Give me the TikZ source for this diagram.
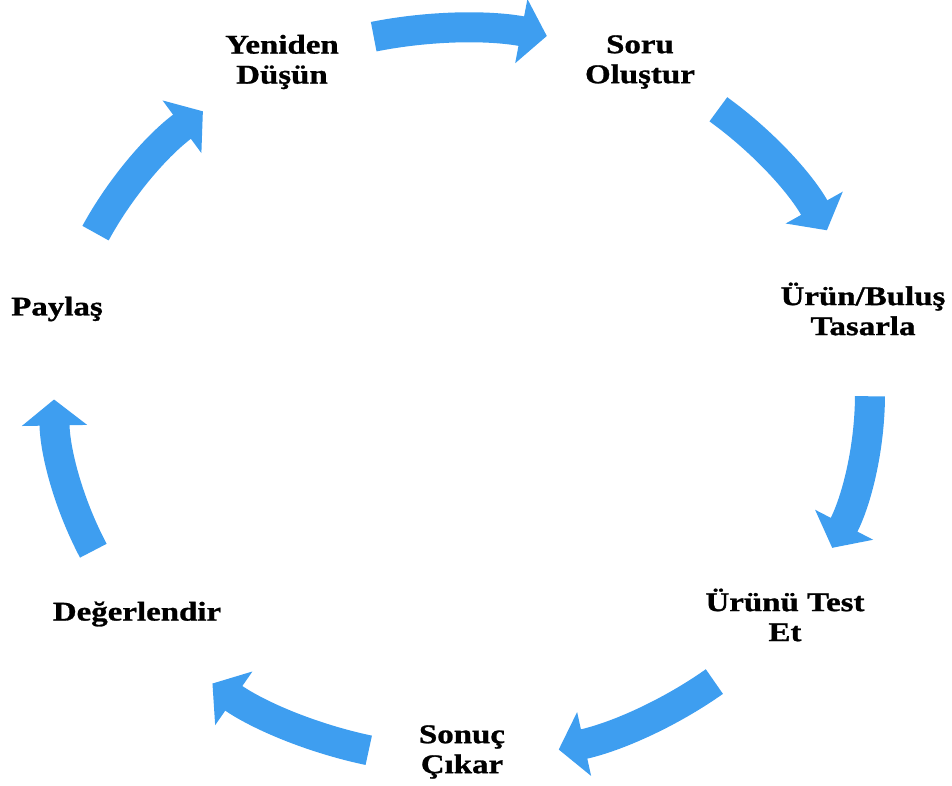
\documentclass[tikz,border=0pt]{standalone}
\usepackage{fontspec}
\setmainfont{Liberation Serif}[FakeStretch=1.22,FakeBold=1]
\usetikzlibrary{arrows.meta}
\definecolor{cycleblue}{HTML}{3E9EF0}

\begin{document}
\begin{tikzpicture}[
  x=1pt,
  y=1pt,
  stagelabel/.style={font=\bfseries\fontsize{27}{30}\selectfont,align=center,inner sep=0pt},
  cyclearrow/.style={draw=cycleblue,line width=30pt,-{Triangle[length=26pt,width=64pt]}}
]
  % Match the artwork frame.
  \useasboundingbox (0,0) rectangle (952,785);
  \coordinate (hub) at (462,391);

  % Stage labels, clockwise from the top left.
  \node[stagelabel] (rethink) at (282,723) {Yeniden\\Düşün};
  \node[stagelabel] (question) at (640,723) {Soru\\Oluştur};
  \node[stagelabel] (design) at (863,476) {Ürün/Buluş\\Tasarla};
  \node[stagelabel] (test) at (785,170) {Ürünü Test\\Et};
  \node[stagelabel] (conclude) at (462,33) {Sonuç\\Çıkar};
  \node[stagelabel] (evaluate) at (137,171) {Değerlendir};
  \node[stagelabel] (share) at (57,476) {Paylaş};

  % Curved arrows between the stages, on one ellipse round the hub.
  \foreach \k in {0,...,6} {
    \pgfmathsetmacro{\midang}{90-51.4286*\k}
    \pgfmathsetmacro{\fromang}{\midang+12.5}
    \pgfmathsetmacro{\toang}{\midang-12}
    \draw[cyclearrow] (hub) ++(\fromang:408pt and 366pt)
      arc[start angle=\fromang,end angle=\toang,x radius=408pt,y radius=366pt];
  }
\end{tikzpicture}
\end{document}
